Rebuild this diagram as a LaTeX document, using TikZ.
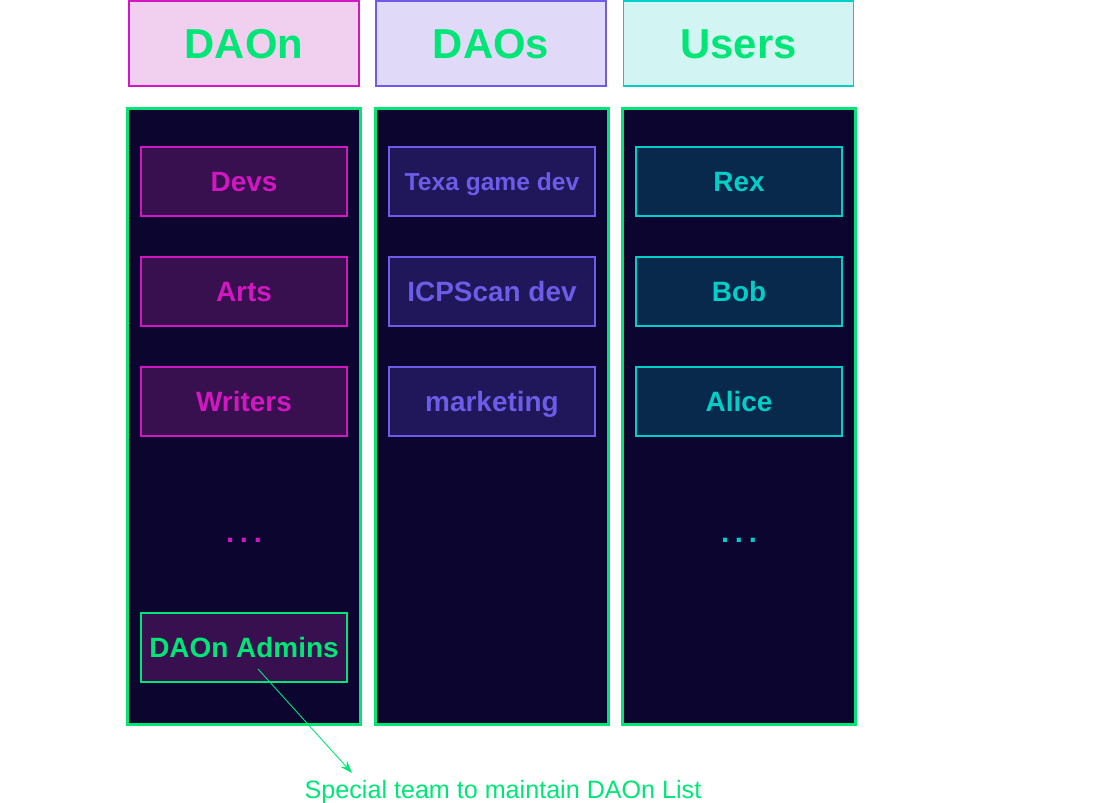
\documentclass[tikz,border=0pt]{standalone}
\usepackage{fontspec}
\setmainfont{Liberation Sans}
\usepackage{xcolor}
\usetikzlibrary{arrows.meta}

\definecolor{teamgreen}{HTML}{00E676}
\definecolor{daonline}{HTML}{D117C1}
\definecolor{daonfill}{HTML}{F1D0EF}
\definecolor{daonbox}{HTML}{38104F}
\definecolor{daosline}{HTML}{6C5CE7}
\definecolor{daosfill}{HTML}{E0DAF8}
\definecolor{daosbox}{HTML}{1F1759}
\definecolor{userline}{HTML}{00CEC9}
\definecolor{userfill}{HTML}{D2F5F4}
\definecolor{userbox}{HTML}{08294B}
\definecolor{night}{HTML}{0B0530}

\begin{document}
\begin{tikzpicture}[x=0.02cm,y=-0.02cm,
    header/.style={draw, line width=1.1pt, minimum width=4.6cm, minimum height=1.7cm,
        text height=17pt, text depth=0pt,
        text=teamgreen, font=\fontsize{23.8}{28}\selectfont\bfseries},
    column/.style={draw=teamgreen, fill=night, line width=1.7pt,
        minimum width=4.68cm, minimum height=12.34cm},
    member/.style={draw, line width=1.1pt, minimum width=4.12cm, minimum height=1.38cm,
        text height=11.4pt, text depth=0pt,
        font=\fontsize{15.9}{18}\selectfont\bfseries},
    more/.style={text height=0pt, text depth=0pt, font=\fontsize{16.5}{18}\selectfont\bfseries}]
            \useasboundingbox (0,0) rectangle (1117,803);
            \def\daonX{244}
            \def\daosX{492}
            \def\userX{739}

            % headers
            \node[header, draw=daonline, fill=daonfill] (daon) at (\daonX,43.5) {DAOn};
            \node[header, draw=daosline, fill=daosfill] (daos) at (491,43.5) {DAOs};
            \node[header, draw=userline, fill=userfill] (users) at (738.5,43.5) {Users};

            % columns
            \node[column] (daoncol) at (\daonX,416.5) {};
            \node[column] (daoscol) at (\daosX,416.5) {};
            \node[column] (usercol) at (\userX,416.5) {};

            \begin{scope}[member/.append style={draw=daonline, fill=daonbox, text=daonline}]
                \node[member] (devs) at (\daonX,181.5) {Devs};
                \node[member] (arts) at (\daonX,291.5) {Arts};
                \node[member] (writers) at (\daonX,401.5) {Writers};
            \end{scope}
            \node[more, text=daonline] (daonmore) at (\daonX,543) {.\hspace{0.2em}.\hspace{0.2em}.};
            \node[member, draw=teamgreen, fill=daonbox, text=teamgreen] (admins) at (\daonX,647.5) {DAOn Admins};

            \begin{scope}[member/.append style={draw=daosline, fill=daosbox, text=daosline}]
                \node[member, text height=10pt, font=\fontsize{14}{16}\selectfont\bfseries] (texa) at (\daosX,181.5) {Texa game dev};
                \node[member] (icpscan) at (\daosX,291.5) {ICPScan dev};
                \node[member] (marketing) at (\daosX,401.5) {marketing};
            \end{scope}

            \begin{scope}[member/.append style={draw=userline, fill=userbox, text=userline}]
                \node[member] (rex) at (\userX,181.5) {Rex};
                \node[member] (bob) at (\userX,291.5) {Bob};
                \node[member] (alice) at (\userX,401.5) {Alice};
            \end{scope}
            \node[more, text=userline] (usermore) at (\userX,543) {.\hspace{0.2em}.\hspace{0.2em}.};

            % note on the admins team
            \node[text=teamgreen, text height=10.2pt, text depth=0pt, font=\fontsize{14.3}{17}\selectfont] (note) at (503,790) {Special team to maintain DAOn List};
            \coordinate (tail) at (258,669);
            \coordinate (tip) at (352,773);
            \draw[teamgreen, line width=0.5pt, -{Stealth[length=7pt,width=5pt]}] (tail) -- (tip);
        \end{tikzpicture}
\end{document}
